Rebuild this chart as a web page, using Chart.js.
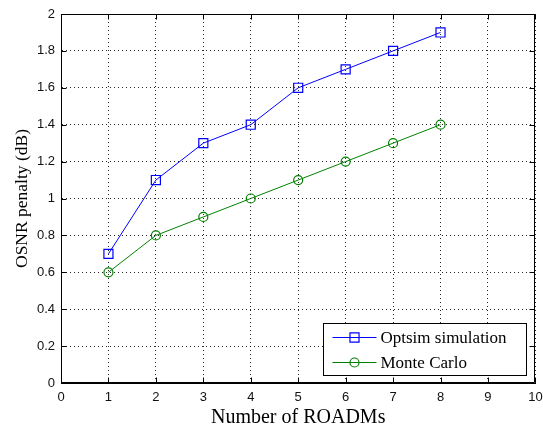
<!DOCTYPE html>
<html><head><meta charset="utf-8">
<script src="https://cdn.jsdelivr.net/npm/chart.js@4"></script>
<style>html,body{margin:0;padding:0;background:#fff}canvas{display:block}</style>
</head><body>
<canvas id="c" width="543" height="427"></canvas>
<script>
const roadms = [1, 2, 3, 4, 5, 6, 7, 8];
const optsim = [0.7, 1.1, 1.3, 1.4, 1.6, 1.7, 1.8, 1.9];
const monteCarlo = [0.6, 0.8, 0.9, 1.0, 1.1, 1.2, 1.3, 1.4];
const xTicks = [0, 1, 2, 3, 4, 5, 6, 7, 8, 9, 10];
const yTicks = [0, 0.2, 0.4, 0.6, 0.8, 1, 1.2, 1.4, 1.6, 1.8, 2];
const yTickLabels = ['0', '0.2', '0.4', '0.6', '0.8', '1', '1.2', '1.4', '1.6', '1.8', '2'];
const seriesNames = ['Optsim simulation', 'Monte Carlo'];
const xTitle = 'Number of ROADMs';
const yTitle = 'OSNR penalty (dB)';

const BLUE = '#0000ff', GREEN = '#008000';
const tickFont = {family: '"Liberation Sans", Arial, sans-serif', size: 13};
const xTitleFont = {family: '"Liberation Serif", "Times New Roman", serif', size: 20};
const yTitleFont = {family: '"Liberation Serif", "Times New Roman", serif', size: 17.5};

const boxPlugin = {
  id: 'matlabBox',
  afterDraw(chart) {
    const ctx = chart.ctx, a = chart.chartArea;
    const xs = chart.scales.x, ys = chart.scales.y;
    ctx.save();
    ctx.strokeStyle = '#000';
    ctx.lineWidth = 1;
    ctx.setLineDash([]);
    ctx.beginPath();
    const L = Math.round(a.left) + 0.5, R = Math.round(a.right) - 0.5;
    const T = Math.round(a.top) + 0.5, B = Math.round(a.bottom) - 0.5;
    ctx.rect(L, T, R - L, B - T);
    const tl = 5;
    xTicks.forEach(v => {
      const px = Math.round(xs.getPixelForValue(v)) + 0.5;
      ctx.moveTo(px, B); ctx.lineTo(px, B - tl);
      ctx.moveTo(px, T); ctx.lineTo(px, T + tl);
    });
    yTicks.forEach(v => {
      const py = Math.round(ys.getPixelForValue(v)) + 0.5;
      ctx.moveTo(L, py); ctx.lineTo(L + tl, py);
      ctx.moveTo(R, py); ctx.lineTo(R - tl, py);
    });
    ctx.stroke();

    // legend
    const lw = 203, lh = 52;
    const lx = Math.round(a.right) - 9 - lw + 0.5, ly = Math.round(a.bottom) - 8 - lh + 0.5;
    ctx.fillStyle = '#fff';
    ctx.fillRect(lx, ly, lw, lh);
    ctx.strokeRect(lx, ly, lw, lh);
    const rows = [
      {name: seriesNames[0], color: BLUE, style: 'rect', r: 6.4},
      {name: seriesNames[1], color: GREEN, style: 'circle', r: 4.5}
    ];
    rows.forEach((row, i) => {
      const cy = ly + 14 + i * 25;
      ctx.strokeStyle = row.color;
      ctx.lineWidth = 1;
      ctx.beginPath();
      ctx.moveTo(lx + 9, cy); ctx.lineTo(lx + 53, cy);
      ctx.stroke();
      ctx.fillStyle = 'rgba(0,0,0,0)';
      ctx.lineWidth = 1.2;
      Chart.helpers.drawPoint(ctx, {pointStyle: row.style, radius: row.r, borderWidth: 1.2, rotation: 0}, lx + 31, cy);
      ctx.fillStyle = '#000';
      ctx.font = '17px "Liberation Serif", "Times New Roman", serif';
      ctx.textBaseline = 'middle';
      ctx.textAlign = 'left';
      ctx.fillText(row.name, lx + 57, cy + 1);
    });
    ctx.restore();
  }
};

new Chart(document.getElementById('c'), {
  type: 'line',
  data: {
    datasets: [
      {
        label: seriesNames[0],
        data: roadms.map((x, i) => ({x: x, y: optsim[i]})),
        borderColor: BLUE, backgroundColor: 'rgba(0,0,0,0)',
        borderWidth: 1, pointStyle: 'rect', pointRadius: 6.4, pointBorderWidth: 1.2,
        pointBorderColor: BLUE, pointBackgroundColor: 'rgba(0,0,0,0)', tension: 0
      },
      {
        label: seriesNames[1],
        data: roadms.map((x, i) => ({x: x, y: monteCarlo[i]})),
        borderColor: GREEN, backgroundColor: 'rgba(0,0,0,0)',
        borderWidth: 1, pointStyle: 'circle', pointRadius: 4.5, pointBorderWidth: 1.2,
        pointBorderColor: GREEN, pointBackgroundColor: 'rgba(0,0,0,0)', tension: 0
      }
    ]
  },
  options: {
    responsive: false,
    animation: false,
    devicePixelRatio: 1,
    layout: {padding: {left: 0, top: 14, right: 5, bottom: 0}},
    plugins: {legend: {display: false}, tooltip: {enabled: false}},
    scales: {
      x: {
        type: 'linear', min: 0, max: 10,
        afterFit(s) { s.height = 44; s.paddingLeft = 0; s.paddingRight = 0; },
        afterBuildTicks(s) { s.ticks = xTicks.map(v => ({value: v})); },
        ticks: {font: tickFont, color: '#111', padding: 7, maxRotation: 0, autoSkip: false,
                callback: v => String(v)},
        grid: {color: 'rgba(0,0,0,0.85)', lineWidth: 1, drawTicks: false},
        border: {display: true, color: '#000', dash: [1, 3]},
        title: {display: true, text: xTitle, font: xTitleFont, color: '#000', padding: {top: 0, bottom: -3}}
      },
      y: {
        type: 'linear', min: 0, max: 2,
        afterFit(s) { s.width = 61; s.paddingTop = 0; s.paddingBottom = 0; },
        afterBuildTicks(s) { s.ticks = yTicks.map(v => ({value: v})); },
        ticks: {font: tickFont, color: '#111', padding: 6, autoSkip: false,
                callback: (v, i) => yTickLabels[i]},
        grid: {color: 'rgba(0,0,0,0.85)', lineWidth: 1, drawTicks: false},
        border: {display: true, color: '#000', dash: [1, 3]},
        title: {display: true, text: yTitle, font: yTitleFont, color: '#000', padding: 12}
      }
    }
  },
  plugins: [boxPlugin]
});
</script>
</body></html>
